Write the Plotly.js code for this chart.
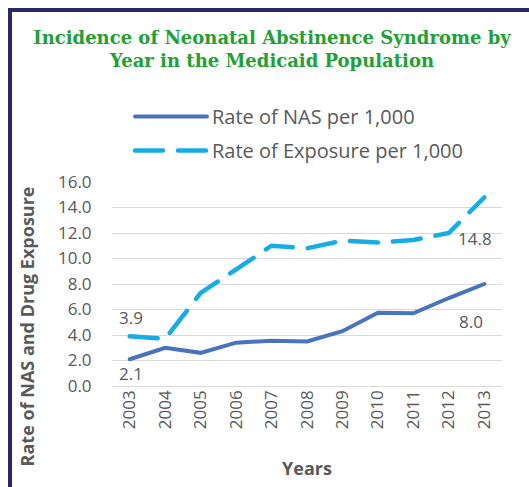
<!DOCTYPE html>
<html>
<head>
<meta charset="utf-8">
<script src="https://cdn.plot.ly/plotly-3.0.1.min.js"></script>
<style>
  html, body { margin: 0; padding: 0; background: #ffffff; }
  #wrap { position: relative; width: 529px; height: 487px; overflow: hidden; }
  #frame { position: absolute; left: 8px; top: 8px; width: 600px; height: 600px;
           border-left: 4px solid #2a2966; border-top: 4px solid #2a2966; pointer-events: none; }
  #chart { position: absolute; left: 0; top: 0; width: 529px; height: 487px; }
  .js-line { stroke-linecap: round; }
</style>
</head>
<body>
<div id="wrap">
  <div id="chart"></div>
  <div id="frame"></div>
</div>
<script>
const years = ["2003","2004","2005","2006","2007","2008","2009","2010","2011","2012","2013"];
const nasRate = [2.1, 3.0, 2.6, 3.4, 3.55, 3.5, 4.3, 5.75, 5.7, 6.9, 8.0];
const exposureRate = [3.9, 3.7, 7.3, 9.1, 11.0, 10.8, 11.4, 11.25, 11.45, 12.0, 14.8];
const seriesNames = ["Rate of NAS per 1,000", "Rate of Exposure per 1,000"];
const yTicks = [0, 2, 4, 6, 8, 10, 12, 14, 16];

const gray = "#595959";
const font = "'Open Sans', sans-serif";

const traces = [
  { x: years, y: nasRate, name: seriesNames[0], type: "scatter", mode: "lines", legendgroup: "a",
    line: { color: "#4a73bd", width: 4 }, hoverinfo: "skip" },
  { x: years, y: exposureRate, name: seriesNames[1], type: "scatter", mode: "lines", legendgroup: "b",
    line: { color: "#16ade6", width: 4.5, dash: "28px,15px" }, hoverinfo: "skip" }
];

const last = years.length - 1;
const annotations = [
  { x: 0, y: exposureRate[0], text: exposureRate[0].toFixed(1), yshift: 19, xshift: 1 },
  { x: 0, y: nasRate[0], text: nasRate[0].toFixed(1), yshift: -14, xshift: 1 },
  { x: last, y: exposureRate[last], text: exposureRate[last].toFixed(1), yshift: -41, xshift: -9 },
  { x: last, y: nasRate[last], text: nasRate[last].toFixed(1), yshift: -37, xshift: -13 }
].map(a => Object.assign({ xref: "x", yref: "y", showarrow: false,
  font: { family: font, size: 17, color: gray } }, a));

annotations.push({
  xref: "paper", yref: "paper", x: -0.217, xanchor: "center", y: 0.294, yanchor: "middle",
  textangle: -90, showarrow: false, text: "<b>Rate of NAS and Drug Exposure</b>",
  font: { family: font, size: 18, color: gray }
});

const layout = {
  width: 529, height: 487,
  margin: { l: 112, r: 27, t: 182, b: 101, autoexpand: false },
  paper_bgcolor: "rgba(0,0,0,0)", plot_bgcolor: "rgba(0,0,0,0)",
  title: {
    text: "<b>Incidence of Neonatal Abstinence Syndrome by<br>Year in the Medicaid Population</b>",
    font: { family: "'DejaVu Serif', serif", size: 18, color: "#21a033" },
    xref: "container", x: 272 / 529, xanchor: "center",
    yref: "container", y: 1 - 44 / 487, yanchor: "top"
  },
  showlegend: true,
  legend: {
    xref: "container", yref: "container", x: 130 / 529, y: 1 - 97 / 487,
    xanchor: "left", yanchor: "top", itemwidth: 72,
    font: { family: font, size: 20, color: gray },
    traceorder: "grouped", tracegroupgap: 5, bgcolor: "rgba(0,0,0,0)"
  },
  xaxis: {
    type: "category", range: [-0.5, 10.5], tickangle: -90,
    showgrid: false, showline: false, zeroline: false, ticks: "",
    tickfont: { family: font, size: 17, color: gray },
    title: { text: "<b>Years</b>", font: { family: font, size: 18, color: gray }, standoff: 34 }
  },
  yaxis: {
    range: [0, 16], tickvals: yTicks, ticktext: yTicks.map(v => v.toFixed(1)),
    showgrid: true, gridcolor: "#d9d9d9", gridwidth: 1,
    zeroline: true, zerolinecolor: "#d9d9d9", zerolinewidth: 1,
    showline: false, ticks: "outside", ticklen: 16, tickcolor: "rgba(0,0,0,0)",
    tickfont: { family: font, size: 17, color: gray }
  },
  annotations: annotations
};

Plotly.newPlot("chart", traces, layout, { displayModeBar: false, staticPlot: true });
</script>
</body>
</html>
